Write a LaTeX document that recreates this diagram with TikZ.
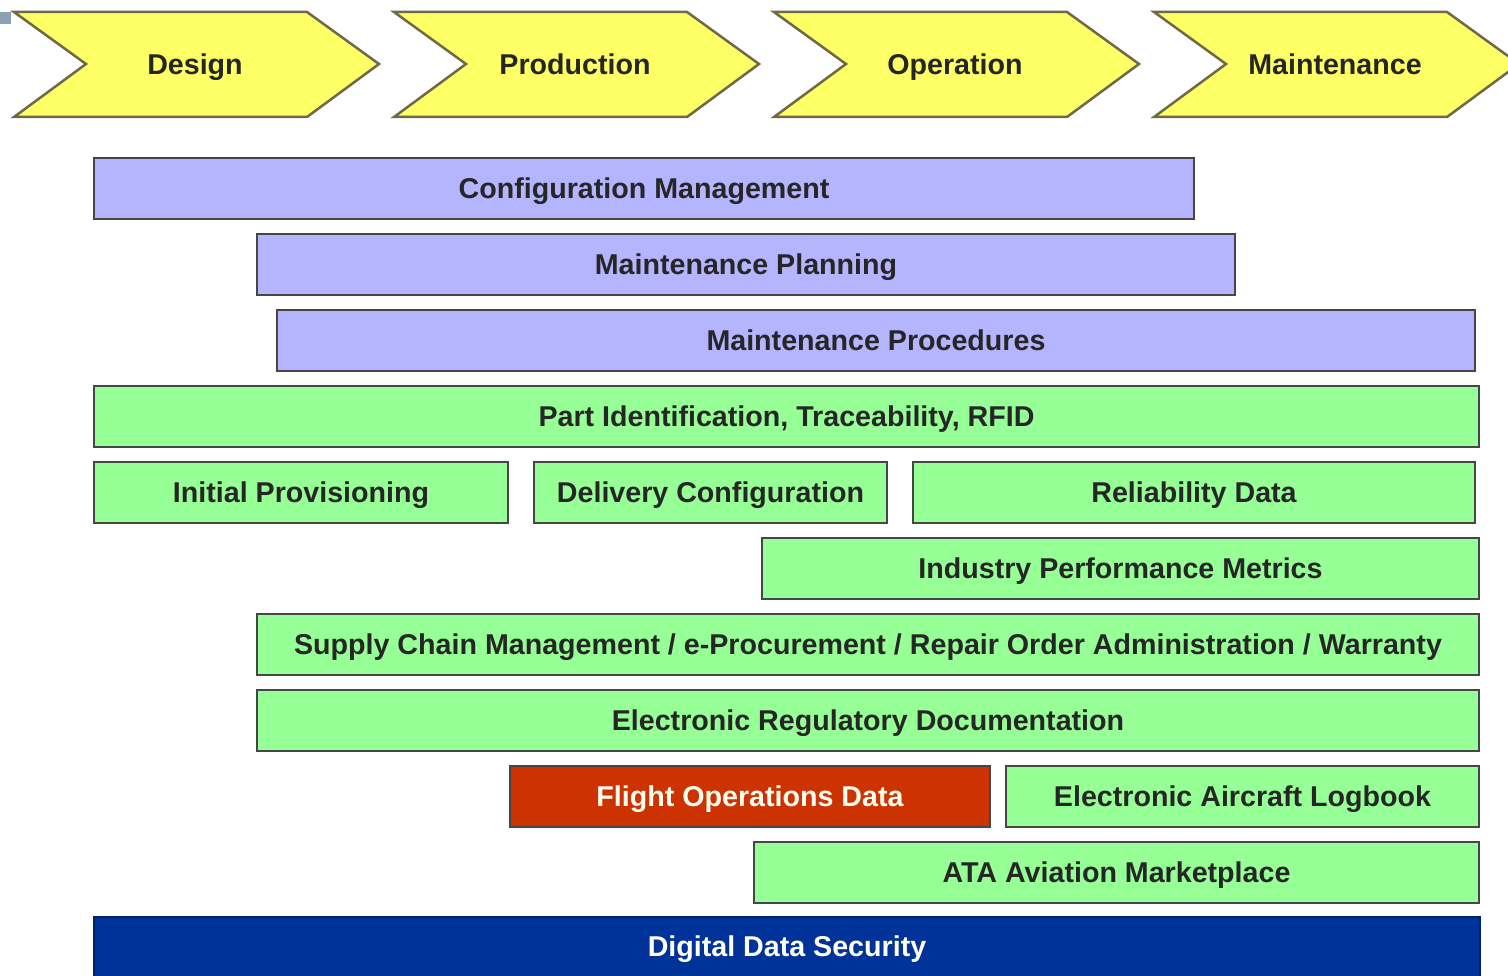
\documentclass[tikz,border=0pt]{standalone}
\usepackage{fontspec}
\setmainfont{Liberation Sans}
\usepackage{tikz}
\usepackage{xcolor}
\usetikzlibrary{calc,positioning}
\definecolor{phaseyellow}{RGB}{255,255,102}
\definecolor{phaseedge}{RGB}{110,105,70}
\definecolor{planblue}{RGB}{180,180,255}
\definecolor{datagreen}{RGB}{150,255,150}
\definecolor{flightred}{RGB}{204,51,0}
\definecolor{secblue}{RGB}{0,51,153}
\definecolor{baredge}{RGB}{70,70,70}
\definecolor{slidegray}{RGB}{140,160,180}

\begin{document}
\begin{tikzpicture}[x=0.02cm, y=-0.02cm,
    lbl/.style={font=\fontsize{16.3}{19}\selectfont\bfseries, text=black!85,
                text height=11.7pt, text depth=0pt, inner sep=0pt},
    wlbl/.style={lbl, text=white!94!yellow},
    phasebox/.style={fill=phaseyellow, draw=phaseedge, line width=0.05cm, line join=miter},
    bluebar/.style={fill=planblue, draw=baredge, line width=0.04cm},
    greenbar/.style={fill=datagreen, draw=baredge, line width=0.04cm},
    redbar/.style={fill=flightred, draw=baredge, line width=0.04cm},
    secbar/.style={fill=secblue, draw=secblue!70!black, line width=0.04cm}]
    \useasboundingbox (0,0) rectangle (1508,976);
    \fill[slidegray] (0,12) rectangle (11,24);

    % life-cycle phases
    \foreach \name [count=\i from 0] in {Design,Production,Operation,Maintenance}{
        \draw[phasebox] ({14+380*\i},12) -- ++(293,0) -- ++(72,52) -- ++(-72,53)
            -- ++(-293,0) -- ++(72,-53) -- cycle;
        \node[lbl] (phase\i) at ({195+380*\i},64) {\name};
    }

    % planning layers
    \draw[bluebar] (94,158) rectangle (1194,219) node[midway, lbl] (cfgmgmt) {Configuration Management};
    \draw[bluebar] (257,234) rectangle (1235,295) node[midway, lbl] (mplan) {Maintenance Planning};
    \draw[bluebar] (277,310) rectangle (1475,371) node[midway, lbl] (mproc) {Maintenance Procedures};

    % data layers
    \draw[greenbar] (94,386) rectangle (1479,447) node[midway, lbl] (partid) {Part Identification, Traceability, RFID};
    \draw[greenbar] (94,462) rectangle (508,523) node[midway, lbl] (initprov) {Initial Provisioning};
    \draw[greenbar] (534,462) rectangle (887,523) node[midway, lbl] (delconf) {Delivery Configuration};
    \draw[greenbar] (913,462) rectangle (1475,523) node[midway, lbl] (reldata) {Reliability Data};
    \draw[greenbar] (762,538) rectangle (1479,599) node[midway, lbl] (perfmet) {Industry Performance Metrics};
    \draw[greenbar] (257,614) rectangle (1479,675) node[midway, lbl] (supply) {Supply Chain Management / e-Procurement / Repair Order Administration / Warranty};
    \draw[greenbar] (257,690) rectangle (1479,751) node[midway, lbl] (regdoc) {Electronic Regulatory Documentation};
    \draw[redbar] (510,766) rectangle (990,827) node[midway, wlbl] (flightops) {Flight Operations Data};
    \draw[greenbar] (1006,766) rectangle (1479,827) node[midway, lbl] (logbook) {Electronic Aircraft Logbook};
    \draw[greenbar] (754,842) rectangle (1479,903) node[midway, lbl] (market) {ATA Aviation Marketplace};

    % security base
    \draw[secbar] (94,917) rectangle (1480,1000);
    \node[wlbl] (security) at (787,946) {Digital Data Security};
\end{tikzpicture}
\end{document}
